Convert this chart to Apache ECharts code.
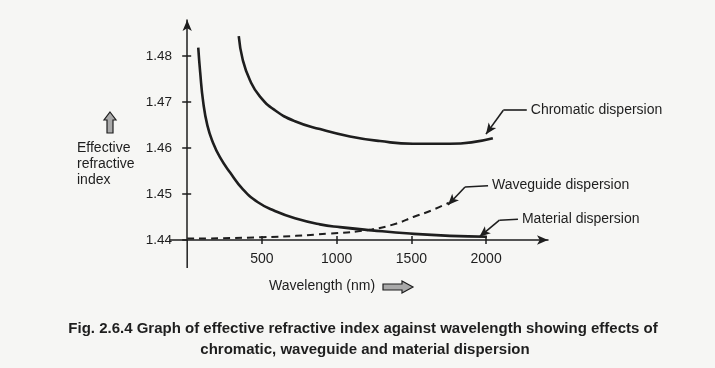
<!DOCTYPE html>
<html>
<head>
<meta charset="utf-8">
<script src="https://cdn.jsdelivr.net/npm/echarts@6/dist/echarts.min.js"></script>
<style>
  html, body { margin: 0; padding: 0; background: #f6f6f4; }
  #chart { width: 715px; height: 368px; }
</style>
</head>
<body>
<div id="chart"></div>
<script>
// tick values
const xTicks = [500, 1000, 1500, 2000];
const yTicks = [1.44, 1.45, 1.46, 1.47, 1.48];

// curves: [wavelength nm, effective index]
const chromatic = [[345, 1.4843], [372, 1.4791], [420, 1.4747], [486, 1.4712], [587, 1.4682], [721, 1.4658],
  [888, 1.4641], [1089, 1.4625], [1289, 1.4615], [1510, 1.4609], [1758, 1.4609], [2045, 1.4621]];
const material = [[74, 1.4818], [87, 1.4764], [107, 1.4700], [135, 1.4649], [172, 1.4612], [219, 1.4580],
  [286, 1.4547], [373, 1.4510], [473, 1.4482], [587, 1.4463], [721, 1.4447], [888, 1.4434], [1022, 1.4428],
  [1236, 1.4421], [1490, 1.4414], [1758, 1.4409], [2005, 1.4407]];
const waveguide = [[0, 1.4403], [500, 1.4406], [953, 1.4414], [1234, 1.4423], [1402, 1.4436], [1513, 1.4450],
  [1625, 1.4463], [1750, 1.4481]];

// leader lines: arrow tip on curve, bend, end of horizontal stub
const chromLeader = [[1999, 1.4630], [2115, 1.4682], [2272, 1.4682]];
const waveLeader = [[1745, 1.4476], [1859, 1.4515], [2013, 1.4518]];
const matLeader = [[1955, 1.4407], [2089, 1.4443], [2213, 1.4445]];

const ink = '#1e1e1e';
const font = "'Liberation Sans', Arial, sans-serif";

function leader(pts, text) {
  return {
    silent: true,
    animation: false,
    symbol: ['arrow', 'none'],
    symbolSize: [7, 11],
    lineStyle: { color: ink, width: 1.6, type: 'solid' },
    label: { show: false },
    emphasis: { disabled: true },
    data: [
      [{ coord: pts[0] }, { coord: pts[1] }],
      [{ coord: pts[1], symbol: 'none' }, {
        coord: pts[2], symbol: 'none',
        label: { show: true, position: 'end', distance: 4, formatter: text, color: ink, fontSize: 14, fontFamily: font }
      }]
    ]
  };
}

const tickStyle = { color: ink, width: 1.5 };
const chart = echarts.init(document.getElementById('chart'));
const option = {
  backgroundColor: '#f6f6f4',
  animation: false,
  grid: { left: 170, right: 167, top: 20, bottom: 128 },
  xAxis: [{
    type: 'value',
    min: -115,
    max: 2414,
    position: 'bottom',
    axisLine: { show: true, symbol: ['none', 'arrow'], symbolSize: [7, 11], lineStyle: { color: ink, width: 1.5 } },
    axisTick: { show: true, customValues: xTicks, length: 4, lineStyle: tickStyle },
    axisLabel: { customValues: xTicks, margin: 12, fontSize: 14, color: ink, fontFamily: font, formatter: v => String(v) },
    splitLine: { show: false }
  }, {
    // second copy only for the inner half of the crossing ticks
    type: 'value',
    min: -115,
    max: 2414,
    position: 'bottom',
    axisLine: { show: false },
    axisTick: { show: true, inside: true, customValues: xTicks, length: 4, lineStyle: tickStyle },
    axisLabel: { show: false },
    splitLine: { show: false }
  }],
  yAxis: [{
    type: 'value',
    min: 1.44,
    max: 1.4878,
    position: 'left',
    axisLine: { show: true, onZero: true, symbol: ['none', 'arrow'], symbolSize: [7, 11], lineStyle: { color: ink, width: 1.5 } },
    axisTick: { show: true, customValues: yTicks, length: 5, lineStyle: tickStyle },
    axisLabel: { customValues: yTicks, margin: -2, fontSize: 13.5, color: ink, fontFamily: font,
      formatter: v => v.toFixed(2) },
    splitLine: { show: false }
  }, {
    type: 'value',
    min: 1.44,
    max: 1.4878,
    position: 'left',
    axisLine: { show: false, onZero: true },
    axisTick: { show: true, inside: true, customValues: yTicks.slice(1), length: 4, lineStyle: tickStyle },
    axisLabel: { show: false },
    splitLine: { show: false }
  }],
  series: [
    { name: 'Chromatic dispersion', type: 'line', data: chromatic, smooth: 0.5, showSymbol: false,
      lineStyle: { color: ink, width: 2.6 }, markLine: leader(chromLeader, 'Chromatic dispersion') },
    { name: 'Material dispersion', type: 'line', data: material, smooth: 0.5, showSymbol: false,
      lineStyle: { color: ink, width: 2.6 }, markLine: leader(matLeader, 'Material dispersion') },
    { name: 'Waveguide dispersion', type: 'line', data: waveguide, smooth: 0.5, showSymbol: false,
      lineStyle: { color: ink, width: 2, type: [7, 5] }, markLine: leader(waveLeader, 'Waveguide dispersion') }
  ]
};
chart.setOption(option);

// y axis runs on a little below the x axis; labels and hatched arrows
const o = chart.convertToPixel({ gridIndex: 0 }, [0, 1.44]);
chart.setOption({
  graphic: [
    { type: 'line', shape: { x1: o[0], y1: o[1], x2: o[0], y2: o[1] + 28 }, style: { stroke: ink, lineWidth: 1.5 } },
    { type: 'text', left: 77, top: 140, style: { text: 'Effective\nrefractive\nindex', fontSize: 14, lineHeight: 16, fill: ink, fontFamily: font } },
    { type: 'polygon', shape: { points: [[110, 112], [116, 120], [113, 120], [113, 133], [107, 133], [107, 120], [104, 120]] },
      style: { fill: '#a9a9a9', stroke: ink, lineWidth: 1.2 } },
    { type: 'text', left: 269, top: 279, style: { text: 'Wavelength (nm)', fontSize: 14, fill: ink, fontFamily: font } },
    { type: 'polygon', shape: { points: [[383, 284], [402, 284], [402, 281], [413, 287], [402, 293], [402, 290], [383, 290]] },
      style: { fill: '#a9a9a9', stroke: ink, lineWidth: 1.2 } },
    { type: 'text', x: 363, y: 329, style: { text: 'Fig. 2.6.4 Graph of effective refractive index against wavelength showing effects of',
      fontSize: 15, fontWeight: 'bold', fill: ink, fontFamily: font, align: 'center', verticalAlign: 'middle' } },
    { type: 'text', x: 365, y: 350, style: { text: 'chromatic, waveguide and material dispersion',
      fontSize: 15, fontWeight: 'bold', fill: ink, fontFamily: font, align: 'center', verticalAlign: 'middle' } }
  ]
});
</script>
</body>
</html>
